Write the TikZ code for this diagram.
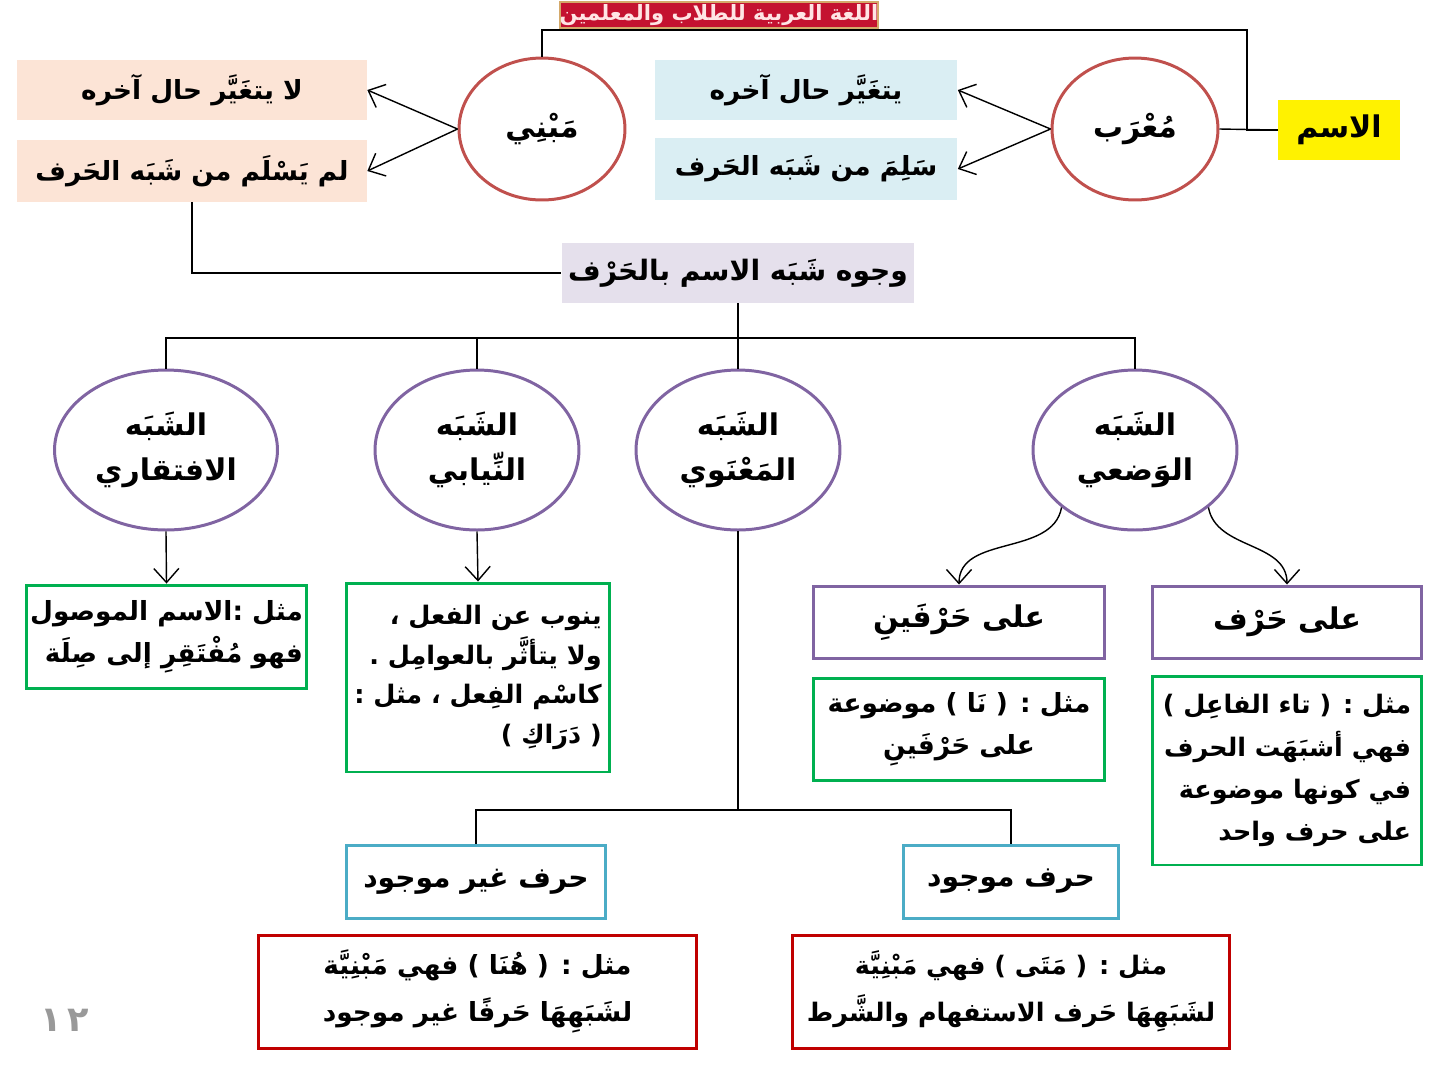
\documentclass[tikz,border=0pt]{standalone}
\usepackage{fontspec}
\usetikzlibrary{positioning, shapes.geometric, arrows.meta}
\TeXXeTstate=1
\newfontfamily\arabicfont[Script=Arabic]{DejaVu Sans}
\newcommand{\artxt}[1]{{\arabicfont\bfseries\beginR #1\endR}}

\definecolor{peach}{HTML}{FCE4D6}
\definecolor{paleblue}{HTML}{DAEEF3}
\definecolor{lavender}{HTML}{E5E0EC}
\definecolor{ringred}{HTML}{C0504D}
\definecolor{ringpurple}{HTML}{8064A2}
\definecolor{okgreen}{HTML}{00B050}
\definecolor{tealline}{HTML}{4BACC6}
\definecolor{darkred}{HTML}{C00000}
\definecolor{bannerred}{HTML}{C41230}
\definecolor{bannertan}{HTML}{D4A96A}

\begin{document}
\begin{tikzpicture}[x=0.02cm, y=-0.02cm]
    % Define styles
    \tikzstyle{lbl} = [font=\fontsize{15}{24}\selectfont, inner sep=2pt]
    \tikzstyle{fillbox} = [lbl, minimum height=1.2cm]
    \tikzstyle{redring} = [lbl, ellipse, draw=ringred, line width=1.7pt, minimum width=3.32cm, minimum height=2.84cm, font=\fontsize{17}{25}\selectfont]
    \tikzstyle{purplering} = [lbl, ellipse, draw=ringpurple, line width=1.7pt, minimum width=4.08cm, minimum height=3.2cm, align=center, font=\fontsize{17}{26}\selectfont]
    \tikzstyle{framebox} = [lbl, draw, line width=1.7pt, align=center]
    \tikzstyle{link} = [draw, line width=0.8pt]
    \tikzstyle{arrow} = [link, ->, >={Straight Barb[length=2.8mm, width=5mm]}]

    \useasboundingbox (0,0) rectangle (1440,1080);

    % Top row
    \node[fillbox, fill=yellow, minimum width=2.44cm, font=\fontsize{17}{24}\selectfont] (isme) at (1339,130) {\artxt{الاسم}};
    \node[redring] (murab) at (1135,129) {\artxt{مُعْرَب}};
    \node[redring] (mabni) at (542,129) {\artxt{مَبْنِي}};
    \node[fillbox, fill=paleblue, minimum width=6.06cm] (blue1) at (806,90) {\artxt{يتغَيَّر حال آخره}};
    \node[fillbox, fill=paleblue, minimum width=6.06cm, minimum height=1.24cm] (blue2) at (806,169) {\artxt{سَلِمَ من شَبَه الحَرف}};
    \node[fillbox, fill=peach, minimum width=7cm] (peach1) at (192,90) {\artxt{لا يتغَيَّر حال آخره}};
    \node[fillbox, fill=peach, minimum width=7cm, minimum height=1.24cm] (peach2) at (192,171) {\artxt{لم يَسْلَم من شَبَه الحَرف}};

    \coordinate (topjoin) at (1247,30);
    \draw[link] (isme.west) -- (murab.east);
    \draw[link] (isme.west) -| (topjoin) -| (mabni.north);
    \draw[arrow] (murab.west) -- (blue1.east);
    \draw[arrow] (murab.west) -- (blue2.east);
    \draw[arrow] (mabni.west) -- (peach1.east);
    \draw[arrow] (mabni.west) -- (peach2.east);

    % Banner
    \node[fill=bannerred, draw=bannertan, line width=1.2pt, minimum width=6.04cm, minimum height=0.52cm, inner sep=0pt,
          text=pink!40!white, font=\fontsize{12}{12}\selectfont] (banner) at (719,15) {\artxt{اللغة العربية للطلاب والمعلمين}};

    % Middle
    \node[fillbox, fill=lavender, minimum width=7.06cm, font=\fontsize{16}{24}\selectfont] (wujuh) at (738,273) {\artxt{وجوه شَبَه الاسم بالحَرْف}};
    \draw[link] (peach2.south) |- (wujuh.west);

    \node[purplering, minimum width=4.46cm] (iftiqari) at (166,450) {\artxt{الشَبَه}\\\artxt{الافتقاري}};
    \node[purplering] (niyabi) at (477,450) {\artxt{الشَبَه}\\\artxt{النِّيابي}};
    \node[purplering] (manawi) at (738,450) {\artxt{الشَبَه}\\\artxt{المَعْنَوي}};
    \node[purplering] (wadi) at (1135,450) {\artxt{الشَبَه}\\\artxt{الوَضعي}};

    \coordinate (bus) at (738,338);
    \draw[link] (wujuh.south) -- (bus);
    \foreach \n in {iftiqari, niyabi, manawi, wadi} {
        \draw[link] (\n.north) |- (bus);
    }

    % Examples under the rings
    \node[framebox, draw=okgreen, minimum width=5.54cm, minimum height=2.06cm, align=right] (ex1) at (166.5,636.5)
        {\artxt{مثل :الاسم الموصول}\\\artxt{فهو مُفْتَقِرِ إلى صِلَة}};
    \node[framebox, draw=okgreen, minimum width=5.28cm, minimum height=3.78cm, align=right, font=\fontsize{14.5}{22.5}\selectfont] (ex2) at (478,677.5)
        {\artxt{ينوب عن الفعل ،}\\\artxt{ولا يتأثَّر بالعوامِل .}\\\artxt{كاسْم الفِعل ، مثل :}\\\artxt{( دَرَاكِ )}};
    \draw[arrow] (iftiqari.south) -- (ex1.north);
    \draw[arrow] (niyabi.south) -- (ex2.north);

    \node[framebox, draw=ringpurple, minimum width=5.84cm, minimum height=1.44cm, font=\fontsize{17}{24}\selectfont] (twoltr) at (959,622) {\artxt{على حَرْفَينِ}};
    \node[framebox, draw=ringpurple, minimum width=5.4cm, minimum height=1.44cm, font=\fontsize{17}{24}\selectfont] (oneltr) at (1287,622) {\artxt{على حَرْف}};
    \node[framebox, draw=okgreen, minimum width=5.84cm, minimum height=2.04cm] (ex3) at (959,729)
        {\artxt{مثل : ( نَا ) موضوعة}\\\artxt{على حَرْفَينِ}};
    \node[framebox, draw=okgreen, minimum width=5.4cm, minimum height=3.78cm, align=right, font=\fontsize{14.5}{24}\selectfont] (ex4) at (1287,770.5)
        {\artxt{مثل : ( تاء الفاعِل )}\\\artxt{فهي أشبَهَت الحرف}\\\artxt{في كونها موضوعة}\\\artxt{على حرف واحد}};
    \draw[arrow] (wadi.-142) to[out=-100, in=90] (twoltr.north);
    \draw[arrow] (wadi.-38) to[out=-80, in=90] (oneltr.north);

    % Meaning branch
    \node[framebox, draw=tealline, minimum width=5.2cm, minimum height=1.46cm, font=\fontsize{16}{24}\selectfont] (absent) at (476,881.5) {\artxt{حرف غير موجود}};
    \node[framebox, draw=tealline, minimum width=4.32cm, minimum height=1.46cm, font=\fontsize{16}{24}\selectfont] (present) at (1011,881.5) {\artxt{حرف موجود}};
    \coordinate (mbus) at (738,810);
    \draw[link] (manawi.south) -- (mbus);
    \draw[link] (absent.north) |- (mbus);
    \draw[link] (present.north) |- (mbus);

    \node[framebox, draw=darkred, minimum width=8.78cm, minimum height=2.26cm, font=\fontsize{15}{27}\selectfont] (ex5) at (477.5,991.5)
        {\artxt{مثل : ( هُنَا ) فهي مَبْنِيَّة}\\\artxt{لشَبَهِهَا حَرفًا غير موجود}};
    \node[framebox, draw=darkred, minimum width=8.76cm, minimum height=2.26cm, font=\fontsize{14.5}{27}\selectfont] (ex6) at (1011,991.5)
        {\artxt{مثل : ( مَتَى ) فهي مَبْنِيَّة}\\\artxt{لشَبَهِهَا حَرف الاستفهام والشَّرط}};

    % Page number
    \node[text=gray!80, font=\fontsize{20}{20}\selectfont\arabicfont\bfseries] (pagenum) at (65,1020) {١\,٢};
\end{tikzpicture}
\end{document}
